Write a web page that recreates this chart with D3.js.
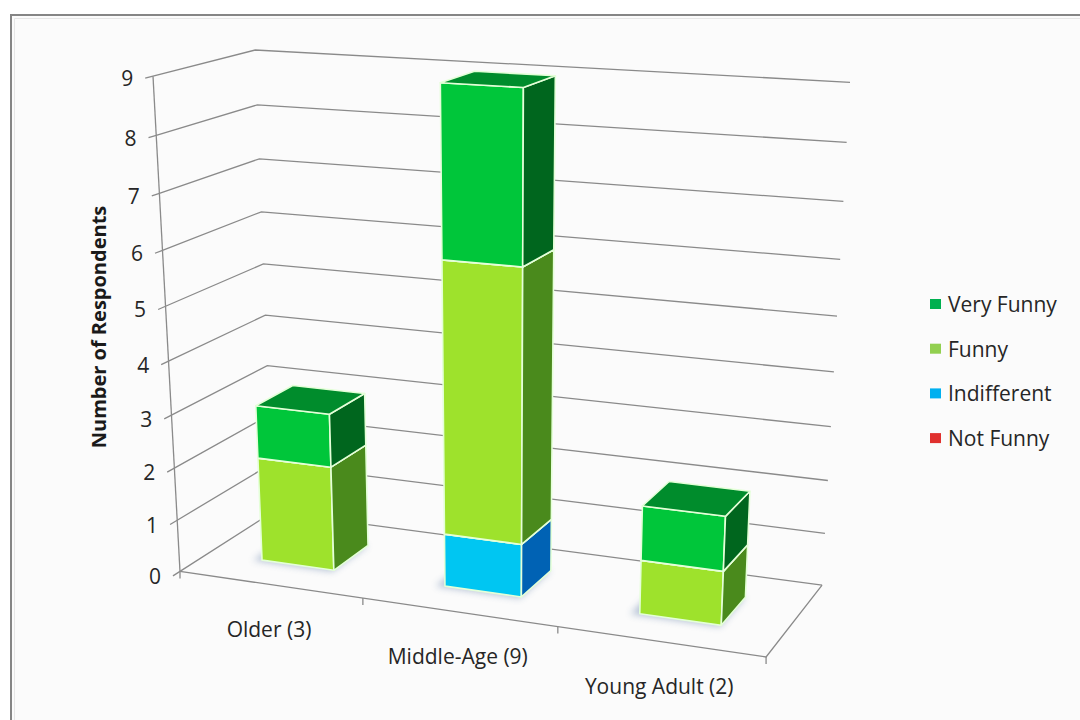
<!DOCTYPE html>
<html>
<head>
<meta charset="utf-8">
<script src="https://cdn.jsdelivr.net/npm/d3@7"></script>
<style>
  html, body { margin: 0; padding: 0; background: #ffffff; }
  svg { display: block; font-family: "Open Sans", "Noto Sans", sans-serif; }
</style>
</head>
<body>
<svg id="chart" width="1080" height="720"></svg>
<script>
// ---- data ----
const categories = ["Older (3)", "Middle-Age (9)", "Young Adult (2)"];
const seriesNames = ["Not Funny", "Indifferent", "Funny", "Very Funny"];
const notFunny    = [0, 0, 0];
const indifferent = [0, 1, 0];
const funny       = [2, 5, 1];
const veryFunny   = [1, 3, 1];
const valueTicks  = [0, 1, 2, 3, 4, 5, 6, 7, 8, 9];
const axisTitle   = "Number of Respondents";
const legendOrder = ["Very Funny", "Funny", "Indifferent", "Not Funny"];

// ---- styles ----
const legendColor = {
  "Not Funny": "#E0302E", "Indifferent": "#00B0F0",
  "Funny": "#92D050", "Very Funny": "#00B050"
};
const faceColor = {
  "Not Funny":   { front: "#E83232", side: "#A01818", top: "#C42222" },
  "Indifferent": { front: "#00C6F2", side: "#0062B4", top: "#0092D4" },
  "Funny":       { front: "#9EE22C", side: "#4A8A1C", top: "#76B826" },
  "Very Funny":  { front: "#00C63A", side: "#00661E", top: "#008C2C" }
};

const svg = d3.select("#chart");
const W = 1080, H = 720;

// chart area frame
svg.append("rect").attr("x", 0).attr("y", 0).attr("width", W).attr("height", H).attr("fill", "#ffffff");
svg.append("rect").attr("x", 11).attr("y", 15).attr("width", W).attr("height", H)
  .attr("fill", "#fbfbfb");
svg.append("path").attr("d", `M11,${H + 5} V15 H${W + 5}`)
  .attr("fill", "none").attr("stroke", "#858585").attr("stroke-width", 2);
svg.append("path").attr("d", `M14.5,${H + 5} V18.5 H${W + 5}`)
  .attr("fill", "none").attr("stroke", "#e6e6e6").attr("stroke-width", 1);

// ---- 3D world: X = categories, Y = value, Z = depth ----
const boxW = 3, boxH = 3, boxD = 1;
const xBand = d3.scaleBand().domain(categories).range([0, boxW])
  .paddingInner(0.6).paddingOuter(0.3);
const yVal = d3.scaleLinear().domain([0, 9]).range([0, boxH]);
const zBar = [0.3, 0.7];

// camera
const yaw = 22 * Math.PI / 180, pitch = 17.5 * Math.PI / 180, camDist = 11;
function rawProject([X, Y, Z]) {
  const px = X - boxW / 2, py = Y - boxH / 2, pz = Z - boxD / 2;
  const x1 = px * Math.cos(yaw) + pz * Math.sin(yaw);
  const z1 = -px * Math.sin(yaw) + pz * Math.cos(yaw);
  const y2 = py * Math.cos(pitch) + z1 * Math.sin(pitch);
  const z2 = -py * Math.sin(pitch) + z1 * Math.cos(pitch);
  const w = camDist + z2;
  return [x1 * camDist / w, -y2 * camDist / w];
}

// fit the projected box into the plot area
const corners = [];
[0, boxW].forEach(x => [0, boxH].forEach(y => [0, boxD].forEach(z => corners.push(rawProject([x, y, z])))));
const sx = d3.scaleLinear().domain(d3.extent(corners, c => c[0])).range([153, 850]);
const sy = d3.scaleLinear().domain(d3.extent(corners, c => c[1])).range([50, 657]);
function P(pt) { const r = rawProject(pt); return [sx(r[0]), sy(r[1])]; }
const line = d3.line();

const gridColor = "#8a8a8a";
const g = svg.append("g");

// gridlines on side wall and back wall, with ticks
valueTicks.forEach(v => {
  const y = yVal(v);
  g.append("path")
    .attr("d", line([P([0, y, -0.07]), P([0, y, 0]), P([0, y, boxD]), P([boxW, y, boxD])]))
    .attr("fill", "none").attr("stroke", gridColor).attr("stroke-width", 1.3);
  const t = P([0, y, -0.07]);
  g.append("text").attr("x", t[0] - 12).attr("y", t[1])
    .attr("text-anchor", "end").attr("dominant-baseline", "central")
    .attr("font-size", 21).attr("fill", "#262626").text(v);
});

// value axis line
g.append("path").attr("d", line([P([0, 0, 0]), P([0, yVal(9), 0])]))
  .attr("fill", "none").attr("stroke", gridColor).attr("stroke-width", 1.3);

// floor front and right edges
g.append("path").attr("d", line([P([0, 0, 0]), P([boxW, 0, 0]), P([boxW, 0, boxD])]))
  .attr("fill", "none").attr("stroke", gridColor).attr("stroke-width", 1.3);

// category ticks
d3.range(categories.length + 1).forEach(i => {
  const p = P([i, 0, 0]);
  g.append("path").attr("d", line([p, [p[0], p[1] + 7]]))
    .attr("fill", "none").attr("stroke", gridColor).attr("stroke-width", 1.3);
});

// category labels
categories.forEach(c => {
  const p = P([xBand(c) + xBand.bandwidth() / 2, 0, 0]);
  g.append("text").attr("x", p[0] - 1).attr("y", p[1] + 44)
    .attr("text-anchor", "middle").attr("dominant-baseline", "central")
    .attr("font-size", 21).attr("fill", "#262626").text(c);
});

// axis title
svg.append("text")
  .attr("transform", "translate(98,327) rotate(-90)")
  .attr("text-anchor", "middle").attr("dominant-baseline", "central")
  .attr("font-size", 20).attr("font-weight", "bold").attr("fill", "#1a1a1a")
  .text(axisTitle);

// ---- stacked bars ----
const table = categories.map((c, i) => ({
  category: c,
  "Not Funny": notFunny[i], "Indifferent": indifferent[i],
  "Funny": funny[i], "Very Funny": veryFunny[i]
}));
const stacked = d3.stack().keys(seriesNames)(table);

const defs = svg.append("defs");
defs.append("filter").attr("id", "soft").attr("x", "-50%").attr("y", "-50%")
  .attr("width", "200%").attr("height", "200%")
  .append("feGaussianBlur").attr("stdDeviation", 3.5);

const bars = svg.append("g");
categories.forEach((c, ci) => {
  const x0 = xBand(c), x1 = x0 + xBand.bandwidth();
  const [z0, z1] = zBar;
  // soft shadow on the floor under the bar
  bars.append("path")
    .attr("d", line([P([x0 - 0.04, 0, z0 - 0.02]), P([x1, 0, z0 - 0.02]), P([x1, 0, z1]), P([x0 - 0.04, 0, z1])]) + "Z")
    .attr("fill", "#5f7aa6").attr("opacity", 0.45).attr("filter", "url(#soft)");
  stacked.forEach(layer => {
    const d = layer[ci];
    if (d[1] - d[0] <= 0) return;
    const y0 = yVal(d[0]), y1 = yVal(d[1]);
    const col = faceColor[layer.key];
    const faces = [
      { pts: [[x0, y0, z0], [x1, y0, z0], [x1, y1, z0], [x0, y1, z0]], fill: col.front },
      { pts: [[x1, y0, z0], [x1, y0, z1], [x1, y1, z1], [x1, y1, z0]], fill: col.side },
      { pts: [[x0, y1, z0], [x1, y1, z0], [x1, y1, z1], [x0, y1, z1]], fill: col.top }
    ];
    faces.forEach(f => {
      bars.append("path").attr("d", line(f.pts.map(P)) + "Z")
        .attr("fill", f.fill).attr("stroke", "#e4ffd8").attr("stroke-width", 1.6)
        .attr("stroke-linejoin", "round");
    });
  });
});

// ---- legend ----
const leg = svg.append("g");
legendOrder.forEach((name, i) => {
  const y = 304 + i * 44.7;
  leg.append("rect").attr("x", 930).attr("y", y - 5).attr("width", 11).attr("height", 10)
    .attr("fill", legendColor[name]);
  leg.append("text").attr("x", 948).attr("y", y).attr("dominant-baseline", "central")
    .attr("font-size", 21).attr("fill", "#262626").text(name);
});
</script>
</body>
</html>
